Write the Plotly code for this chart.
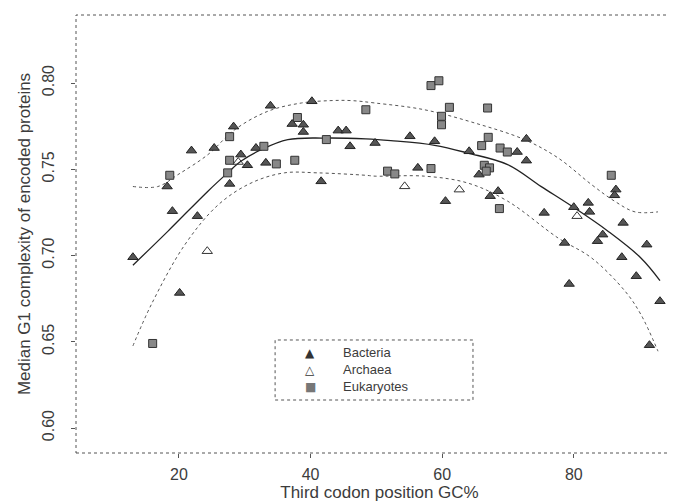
import plotly.graph_objects as go

# ---- data ----
bact_x = [33.9, 40.2, 37.2, 38.9, 38.9, 28.3, 21.9, 25.35, 18.2, 29.4, 30.4, 27.7, 31.7, 33.2,
          44.2, 45.4, 46.0, 41.6, 19.0, 22.8, 13.0, 20.1, 49.8, 55.1, 58.85, 64.1, 71.4, 72.8,
          72.8, 65.6, 56.3, 60.5, 67.3, 68.5, 86.4, 86.2, 80.0, 82.2, 82.4, 75.5, 87.5, 84.4,
          83.6, 78.6, 87.3, 91.1, 89.5, 79.3, 93.1, 91.5]
bact_y = [0.7868, 0.7894, 0.7762, 0.7758, 0.7716, 0.7747, 0.7608, 0.7623, 0.7400, 0.7585,
          0.7523, 0.7415, 0.7623, 0.7537, 0.7724, 0.7724, 0.7633, 0.7430, 0.7257, 0.7228,
          0.6990, 0.6783, 0.7652, 0.7691, 0.7662, 0.7604, 0.7600, 0.7676, 0.7550, 0.7469,
          0.7508, 0.7315, 0.7344, 0.7373, 0.7382, 0.7349, 0.7280, 0.7305, 0.7253, 0.7247,
          0.7189, 0.7121, 0.7083, 0.7073, 0.6990, 0.7063, 0.6880, 0.6835, 0.6735, 0.6480]

arch_x = [24.3, 29.0, 54.3, 62.6, 80.5]
arch_y = [0.7025, 0.7542, 0.7401, 0.7382, 0.7228]

euk_x = [38.0, 48.4, 27.7, 18.6, 27.7, 27.4, 32.9, 34.8, 37.6, 42.4, 58.3, 59.5, 61.1, 59.9,
         59.9, 66.9, 67.0, 66.0, 68.8, 69.9, 66.4, 67.2, 66.7, 51.7, 52.8, 58.3, 68.7, 85.7, 16.0]
euk_y = [0.7800, 0.7845, 0.7689, 0.7465, 0.7552, 0.7479, 0.7633, 0.7531, 0.7552, 0.7672,
         0.7985, 0.8013, 0.7859, 0.7807, 0.7758, 0.7855, 0.7685, 0.7637, 0.7623, 0.7600,
         0.7523, 0.7508, 0.7489, 0.7489, 0.7473, 0.7504, 0.7272, 0.7465, 0.6490]

fit_x = [13.0, 18.3, 24.4, 27.4, 29.4, 32.5, 36.55, 42.15, 48.4, 52.2, 58.85, 63.9, 69.95,
         75.0, 80.1, 85.2, 90.2, 93.1]
fit_y = [0.6944, 0.7140, 0.7373, 0.7479, 0.7546, 0.7614, 0.7672, 0.7681, 0.7676, 0.7666,
         0.7639, 0.7594, 0.7527, 0.7401, 0.7276, 0.7141, 0.6986, 0.6855]

up_x = [13.0, 16.8, 19.85, 24.4, 28.5, 33.5, 38.6, 43.1, 46.2, 49.8, 57.3, 64.96, 72.5, 77.6,
        82.7, 86.2, 89.3, 92.8]
up_y = [0.7400, 0.7400, 0.7469, 0.7585, 0.7730, 0.7836, 0.7884, 0.7898, 0.7898, 0.7884,
        0.7845, 0.7768, 0.7672, 0.7566, 0.7411, 0.7315, 0.7253, 0.7253]

lo_x = [13.0, 15.8, 20.9, 26.0, 30.95, 36.0, 41.1, 48.4, 49.8, 57.3, 63.9, 69.95, 77.6, 82.7,
        87.8, 90.2, 92.8]
lo_y = [0.6476, 0.6716, 0.7063, 0.7295, 0.7420, 0.7479, 0.7479, 0.7465, 0.7460, 0.7460,
        0.7420, 0.7315, 0.7102, 0.6986, 0.6793, 0.6658, 0.6445]

x_ticks = [20, 40, 60, 80]
y_ticks = [0.60, 0.65, 0.70, 0.75, 0.80]
y_ticktext = ["0.60", "0.65", "0.70", "0.75", "0.80"]

legend_names = ["Bacteria", "Archaea", "Eukaryotes"]
legend_glyphs = ["▲", "△", "■"]

FONT = "Liberation Sans, Arial, sans-serif"
INK = "#3c3c3c"

fig = go.Figure()
fig.add_trace(go.Scatter(x=up_x, y=up_y, mode="lines", line=dict(color="#555", width=1, dash="dot"),
                         line_shape="spline", showlegend=False, hoverinfo="skip"))
fig.add_trace(go.Scatter(x=lo_x, y=lo_y, mode="lines", line=dict(color="#555", width=1, dash="dot"),
                         line_shape="spline", showlegend=False, hoverinfo="skip"))
fig.add_trace(go.Scatter(x=fit_x, y=fit_y, mode="lines", line=dict(color="#222", width=1.3),
                         line_shape="spline", showlegend=False, hoverinfo="skip"))

fig.add_trace(go.Scatter(x=bact_x, y=bact_y, mode="markers", name="Bacteria", showlegend=False,
                         marker=dict(symbol="triangle-up", size=9, color="#555",
                                     line=dict(color="#222", width=1))))
fig.add_trace(go.Scatter(x=arch_x, y=arch_y, mode="markers", name="Archaea", showlegend=False,
                         marker=dict(symbol="triangle-up-open", size=9, color="#333",
                                     line=dict(width=1))))
fig.add_trace(go.Scatter(x=euk_x, y=euk_y, mode="markers", name="Eukaryotes", showlegend=False,
                         marker=dict(symbol="square", size=8, color="#888",
                                     line=dict(color="#333", width=1))))

# dotted frame like the scanned box
fig.add_shape(type="rect", xref="paper", yref="paper", x0=0, y0=0, x1=1, y1=1,
              line=dict(color="#555", width=1, dash="dot"))
# legend box
fig.add_shape(type="rect", xref="paper", yref="paper", x0=0.328, y0=0.121, x1=0.654, y1=0.258,
              line=dict(color="#555", width=1, dash="dot"))

row_y = [0.229, 0.190, 0.151]
glyph_col = ["#333", "#333", "#777"]
for name, g, yy, gc in zip(legend_names, legend_glyphs, row_y, glyph_col):
    fig.add_annotation(x=0.386, y=yy, xref="paper", yref="paper", text=g, showarrow=False,
                       xanchor="center", yanchor="middle",
                       font=dict(family="DejaVu Sans", size=12, color=gc))
    fig.add_annotation(x=0.437, y=yy, xref="paper", yref="paper", text=name, showarrow=False,
                       xanchor="left", yanchor="middle", font=dict(size=13, color=INK))

fig.update_layout(
    width=677, height=501,
    margin=dict(l=68, r=2, t=7, b=56),
    paper_bgcolor="white", plot_bgcolor="white",
    font=dict(family=FONT, color=INK, size=16),
    showlegend=False,
    xaxis=dict(range=[4.35, 96.6], tickvals=x_ticks, ticks="outside", ticklen=4,
               tickcolor="#555", showgrid=False, zeroline=False, showline=False,
               ticklabelstandoff=3,
               title=dict(text="Third codon position GC%", font=dict(size=17), standoff=3),
               tickfont=dict(size=16)),
    yaxis=dict(range=[0.58551, 0.83942], tickvals=y_ticks, ticktext=y_ticktext, ticks="outside",
               ticklen=4, tickcolor="#555", tickangle=-90, showgrid=False, zeroline=False,
               showline=False, ticklabelstandoff=11,
               title=dict(text="Median G1 complexity of encoded proteins", font=dict(size=17),
                          standoff=4),
               tickfont=dict(size=16)),
)

fig.write_html("out.html")
